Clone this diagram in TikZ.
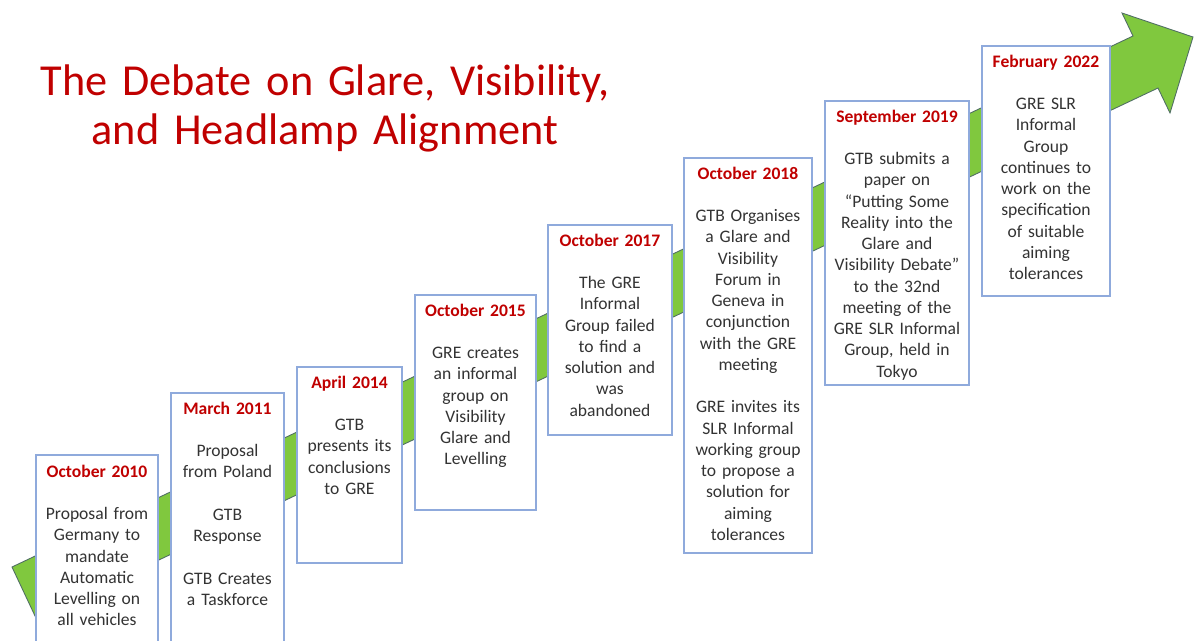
\documentclass[tikz,border=0pt]{standalone}
\usepackage{fontspec}
\setmainfont{Carlito}
\usepackage{tikz}
\definecolor{datered}{HTML}{C00000}
\definecolor{boxblue}{HTML}{8FAADC}
\definecolor{arrowgreen}{RGB}{128,200,62}
\definecolor{arrowedge}{RGB}{80,110,100}
\tikzset{
every picture/.style={x=0.02cm, y=-0.02cm},
%%%%%%%%%%  Node styles
heading/.style={text=datered, text width=16cm, align=center, anchor=base,
                inner sep=0pt, font=\fontsize{25.2}{28.4}\selectfont},
event/.style={text width=2.9cm, align=center, anchor=base, inner sep=0pt,
              text=black!80, font=\fontsize{10}{12.1}\selectfont},
%%%% box and arrow styles
eventbox/.style={draw=boxblue, line width=0.7pt, fill=white},
bigarrow/.style={fill=arrowgreen, draw=arrowedge, line width=0.5pt,
                 line join=miter}
}
\newcommand{\when}[1]{\textcolor{datered}{\textbf{#1}}\\[\baselineskip]}
\newcommand{\gap}{\\[\baselineskip]}

\begin{document}
\begin{tikzpicture}
\useasboundingbox (0,0) rectangle (1197,640);
\clip (0,0) rectangle (1197,640);
\node[heading] (title) at (325,95)
  {The Debate on Glare, Visibility,\\ and Headlamp Alignment};
% the rising arrow behind the boxes
\draw[bigarrow] (12,567) -- (1133,36) -- (1122,13) -- (1193,37)
  -- (1170,113) -- (1158,88) -- (36,618) -- cycle;
% boxes, left to right
\draw[eventbox] (36,455) rectangle (158,650);
\draw[eventbox] (171,393) rectangle (284,650);
\draw[eventbox] (297,367) rectangle (402,563);
\draw[eventbox] (415,295) rectangle (536,510);
\draw[eventbox] (548,225) rectangle (672,435);
\draw[eventbox] (684,158) rectangle (812,553);
\draw[eventbox] (825,101) rectangle (969,385);
\draw[eventbox] (982,46) rectangle (1110,296);
% texts
\node[event] (oct10) at (97,477) {\when{October 2010}
  Proposal from\\ Germany to\\ mandate\\ Automatic\\ Levelling on\\ all vehicles};
\node[event] (mar11) at (227.5,414) {\when{March 2011}
  Proposal\\ from Poland\gap GTB\\ Response\gap GTB Creates\\ a Taskforce};
\node[event] (apr14) at (349.5,388) {\when{April 2014}
  GTB\\ presents its\\ conclusions\\ to GRE};
\node[event] (oct15) at (475.5,316) {\when{October 2015}
  GRE creates\\ an informal\\ group on\\ Visibility\\ Glare and\\ Levelling};
\node[event] (oct17) at (610,246) {\when{October 2017}
  The GRE\\ Informal\\ Group failed\\ to find a\\ solution and\\ was\\ abandoned};
\node[event] (oct18) at (748,179) {\when{October 2018}
  GTB Organises\\ a Glare and\\ Visibility\\ Forum in\\ Geneva in\\ conjunction\\
  with the GRE\\ meeting\gap GRE invites its\\ SLR Informal\\ working group\\
  to propose a\\ solution for\\ aiming\\ tolerances};
\node[event] (sep19) at (897,122) {\when{September 2019}
  GTB submits a\\ paper on\\ “Putting Some\\ Reality into the\\ Glare and\\
  Visibility Debate”\\ to the 32nd\\ meeting of the\\ GRE SLR Informal\\
  Group, held in\\ Tokyo};
\node[event] (feb22) at (1046,67) {\when{February 2022}
  GRE SLR\\ Informal\\ Group\\ continues to\\ work on the\\ specification\\
  of suitable\\ aiming\\ tolerances};
\end{tikzpicture}
\end{document}
